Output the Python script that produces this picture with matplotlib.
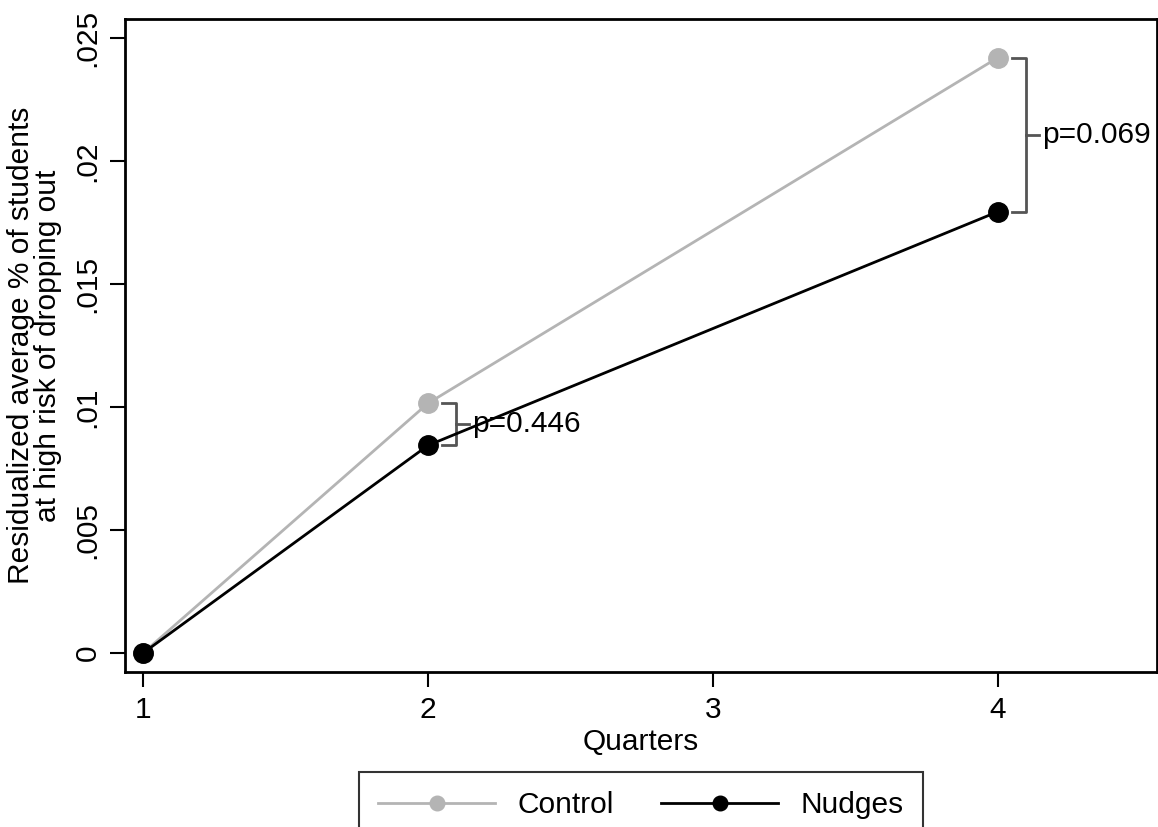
import matplotlib as mpl
import matplotlib.pyplot as plt

mpl.use("Agg")
plt.rcParams["font.family"] = ["Liberation Sans", "DejaVu Sans"]

quarters = [1, 2, 4]
control = [0.0, 0.01015, 0.0242]
nudges = [0.0, 0.00844, 0.01794]
pvals = {2: "p=0.446", 4: "p=0.069"}

fig = plt.figure(figsize=(11.58, 8.27), dpi=100)
ax = fig.add_axes([0.108, 0.1874, 0.891, 0.7896])

ax.plot(quarters, control, color="#b4b4b4", lw=2, marker="o", ms=14,
        mec="#b4b4b4", mfc="#b4b4b4", label="Control", zorder=3)
ax.plot(quarters, nudges, color="black", lw=2, marker="o", ms=14,
        mec="black", mfc="black", label="Nudges", zorder=4)

# brackets with p-values
for q, c, n in zip(quarters, control, nudges):
    if q not in pvals:
        continue
    x0, x1, x2 = q + 0.05, q + 0.1, q + 0.145
    ax.plot([x0, x1, x1, x0], [c, c, n, n], color="#555555", lw=2, zorder=2)
    ax.plot([x1, x2], [(c + n) / 2] * 2, color="#555555", lw=2, zorder=2)
    ax.text(x2 + 0.01, (c + n) / 2, pvals[q], fontsize=21.5, va="center", ha="left")

ax.set_xlim(0.937, 4.558)
ax.set_ylim(-0.00077, 0.02577)
ax.set_xticks([1, 2, 3, 4])
ax.set_yticks([0, 0.005, 0.01, 0.015, 0.02, 0.025])
ax.set_yticklabels(["0", ".005", ".01", ".015", ".02", ".025"], rotation=90, va="center")
ax.tick_params(labelsize=21.5, length=11, width=1.5, pad=6)
for s in ax.spines.values():
    s.set_linewidth(2)
ax.set_xlabel("Quarters", fontsize=21.5, labelpad=3)
ax.set_ylabel("Residualized average % of students\nat high risk of dropping out",
              fontsize=21.5, labelpad=8, linespacing=0.95)

leg = ax.legend(loc="upper center", bbox_to_anchor=(0.5, -0.153), ncol=2,
                fontsize=21.5, frameon=True, fancybox=False, edgecolor="black",
                handlelength=3.9, handletextpad=0.75, columnspacing=1.6,
                borderpad=0.65, borderaxespad=0, markerscale=0.75)
leg.get_frame().set_linewidth(1.5)

fig.savefig("out.png", dpi=100)
